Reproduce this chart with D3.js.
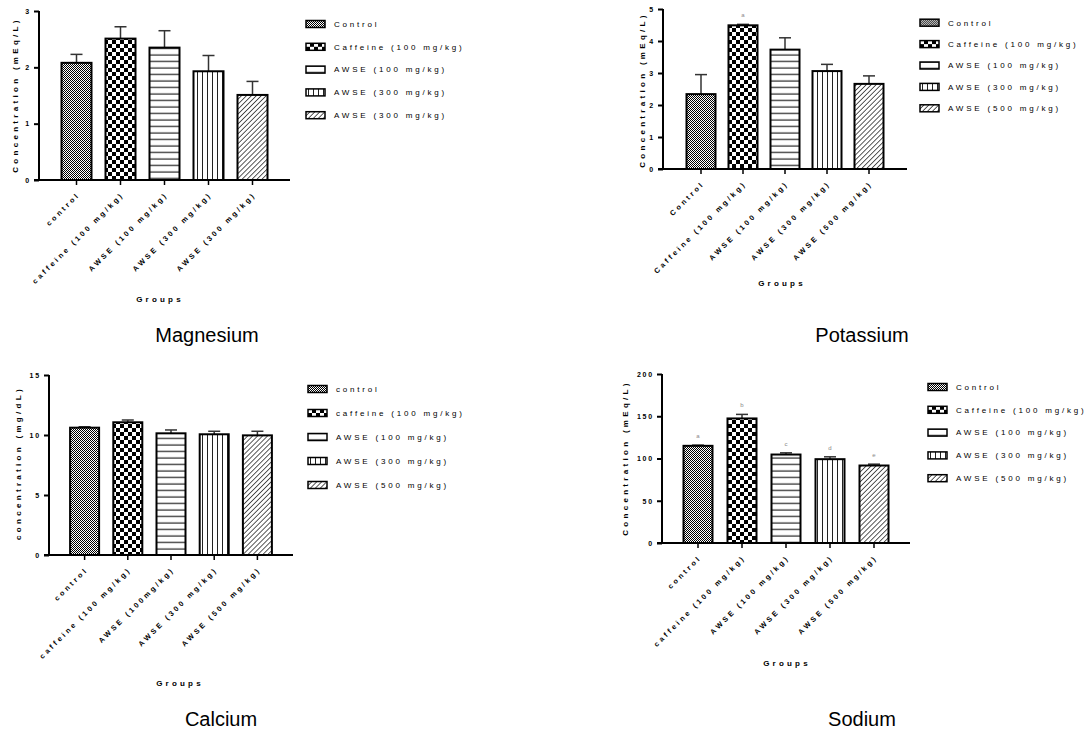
<!DOCTYPE html>
<html>
<head>
<meta charset="utf-8">
<script src="https://cdn.jsdelivr.net/npm/d3@7"></script>
<style>
  html, body { margin: 0; padding: 0; background: #fff; }
  svg { display: block; font-family: "Liberation Sans", Arial, sans-serif; }
</style>
</head>
<body>
<svg id="chart" width="1088" height="735"></svg>
<script>
// ---- Data -------------------------------------------------------------
const fillKeys = ["control", "caffeine", "awse100", "awse300", "awse500"];

const mgTitle = "Magnesium";
const mgYLabel = "Concentration (mEq/L)";
const mgGroups = ["control", "caffeine (100 mg/kg)", "AWSE (100 mg/kg)", "AWSE (300 mg/kg)", "AWSE (300 mg/kg)"];
const mgLegend = ["Control", "Caffeine (100 mg/kg)", "AWSE (100 mg/kg)", "AWSE (300 mg/kg)", "AWSE (300 mg/kg)"];
const mgMeans = [2.08, 2.51, 2.35, 1.93, 1.51];
const mgErrors = [0.15, 0.21, 0.30, 0.28, 0.24];
const mgLetters = ["", "", "", "", ""];
const mgTicks = [0, 1, 2, 3];

const kTitle = "Potassium";
const kYLabel = "Concentration (mEq/L)";
const kGroups = ["Control", "Caffeine (100 mg/kg)", "AWSE (100 mg/kg)", "AWSE (300 mg/kg)", "AWSE (500 mg/kg)"];
const kLegend = ["Control", "Caffeine (100 mg/kg)", "AWSE (100 mg/kg)", "AWSE (300 mg/kg)", "AWSE (500 mg/kg)"];
const kMeans = [2.34, 4.49, 3.73, 3.06, 2.66];
const kErrors = [0.61, 0.03, 0.37, 0.21, 0.25];
const kLetters = ["", "a", "", "", ""];
const kTicks = [0, 1, 2, 3, 4, 5];

const caTitle = "Calcium";
const caYLabel = "concentration (mg/dL)";
const caGroups = ["control", "caffeine (100 mg/kg)", "AWSE (100mg/kg)", "AWSE (300 mg/kg)", "AWSE (500 mg/kg)"];
const caLegend = ["control", "caffeine (100 mg/kg)", "AWSE (100 mg/kg)", "AWSE (300 mg/kg)", "AWSE (500 mg/kg)"];
const caMeans = [10.61, 11.06, 10.14, 10.06, 9.97];
const caErrors = [0.08, 0.19, 0.28, 0.25, 0.34];
const caLetters = ["", "", "", "", ""];
const caTicks = [0, 5, 10, 15];

const naTitle = "Sodium";
const naYLabel = "Concentration (mEq/L)";
const naGroups = ["control", "caffeine (100 mg/kg)", "AWSE (100 mg/kg)", "AWSE (300 mg/kg)", "AWSE (500 mg/kg)"];
const naLegend = ["Control", "Caffeine (100 mg/kg)", "AWSE (100 mg/kg)", "AWSE (300 mg/kg)", "AWSE (500 mg/kg)"];
const naMeans = [115, 147.4, 104.7, 99.2, 91.7];
const naErrors = [0.8, 4.8, 2.0, 2.8, 1.6];
const naLetters = ["a", "b", "c", "d", "e"];
const naTicks = [0, 50, 100, 150, 200];

// ---- Panel layout -----------------------------------------------------
const panels = [
  { title: mgTitle, yLabel: mgYLabel, groups: mgGroups, legend: mgLegend, means: mgMeans, errors: mgErrors, letters: mgLetters, ticks: mgTicks,
    x0: 39, x1: 290, y0: 180, y1: 11, step: 44, bw: 30,
    yLabelX: 15, yLabelY: 95, groupsX: 160, groupsY: 302,
    legX: 306, legY: 24, legStep: 22.8, titleX: 207, titleY: 342 },
  { title: kTitle, yLabel: kYLabel, groups: kGroups, legend: kLegend, means: kMeans, errors: kErrors, letters: kLetters, ticks: kTicks,
    x0: 663, x1: 907, y0: 169, y1: 9, step: 42, bw: 29,
    yLabelX: 642, yLabelY: 90, groupsX: 782, groupsY: 286,
    legX: 920, legY: 22.7, legStep: 21.4, titleX: 862, titleY: 342 },
  { title: caTitle, yLabel: caYLabel, groups: caGroups, legend: caLegend, means: caMeans, errors: caErrors, letters: caLetters, ticks: caTicks,
    x0: 49, x1: 293, y0: 555, y1: 375, step: 43.2, bw: 29,
    yLabelX: 18, yLabelY: 463, groupsX: 180, groupsY: 686,
    legX: 308, legY: 389, legStep: 24, titleX: 221, titleY: 726 },
  { title: naTitle, yLabel: naYLabel, groups: naGroups, legend: naLegend, means: naMeans, errors: naErrors, letters: naLetters, ticks: naTicks,
    x0: 662, x1: 910, y0: 543, y1: 374, step: 44, bw: 29,
    yLabelX: 625, yLabelY: 458, groupsX: 787, groupsY: 666,
    legX: 928, legY: 387, legStep: 22.8, titleX: 862, titleY: 726 }
];

const svg = d3.select("#chart");

// ---- Fill patterns ----------------------------------------------------
const defs = svg.append("defs");

// fine checker
const pCtl = defs.append("pattern").attr("id", "pat-control")
  .attr("patternUnits", "userSpaceOnUse").attr("width", 2).attr("height", 2);
pCtl.append("rect").attr("width", 2).attr("height", 2).attr("fill", "#fff");
pCtl.append("rect").attr("x", 0).attr("y", 0).attr("width", 1).attr("height", 1).attr("fill", "#000");
pCtl.append("rect").attr("x", 1).attr("y", 1).attr("width", 1).attr("height", 1).attr("fill", "#000");

// coarse checker
const pCaf = defs.append("pattern").attr("id", "pat-caffeine")
  .attr("patternUnits", "userSpaceOnUse").attr("width", 8).attr("height", 8);
pCaf.append("rect").attr("width", 8).attr("height", 8).attr("fill", "#fff");
pCaf.append("rect").attr("x", 0).attr("y", 0).attr("width", 4).attr("height", 4).attr("fill", "#000");
pCaf.append("rect").attr("x", 4).attr("y", 4).attr("width", 4).attr("height", 4).attr("fill", "#000");

// horizontal stripes
const pH = defs.append("pattern").attr("id", "pat-awse100")
  .attr("patternUnits", "userSpaceOnUse").attr("width", 6).attr("height", 6.5);
pH.append("rect").attr("width", 6).attr("height", 6.5).attr("fill", "#fff");
pH.append("line").attr("x1", 0).attr("x2", 6).attr("y1", 3).attr("y2", 3)
  .attr("stroke", "#222").attr("stroke-width", 1.2);

// vertical stripes
const pV = defs.append("pattern").attr("id", "pat-awse300")
  .attr("patternUnits", "userSpaceOnUse").attr("width", 5).attr("height", 5);
pV.append("rect").attr("width", 5).attr("height", 5).attr("fill", "#fff");
pV.append("line").attr("x1", 2.5).attr("x2", 2.5).attr("y1", 0).attr("y2", 5)
  .attr("stroke", "#222").attr("stroke-width", 1);

// diagonal hatch
const pD = defs.append("pattern").attr("id", "pat-awse500")
  .attr("patternUnits", "userSpaceOnUse").attr("width", 3.5).attr("height", 3.5)
  .attr("patternTransform", "rotate(45)");
pD.append("rect").attr("width", 3.5).attr("height", 3.5).attr("fill", "#fff");
pD.append("line").attr("x1", 0).attr("x2", 0).attr("y1", 0).attr("y2", 3.5)
  .attr("stroke", "#000").attr("stroke-width", 1.3);

// ---- Draw one panel ---------------------------------------------------
function drawPanel(p) {
  const g = svg.append("g");
  const n = p.groups.length;
  const W = p.x1 - p.x0;
  const pi = 1 - p.bw / p.step;
  const po = (W / p.step - n + pi) / 2;

  const x = d3.scaleBand().domain(d3.range(n)).range([p.x0, p.x1])
    .paddingInner(pi).paddingOuter(po);
  const y = d3.scaleLinear().domain([p.ticks[0], p.ticks[p.ticks.length - 1]]).range([p.y0, p.y1]);

  const rows = p.means.map((m, i) => ({ i, m, e: p.errors[i], letter: p.letters[i], key: fillKeys[i] }));

  // error bars (upper half only, drawn behind the bars)
  const eb = g.append("g").attr("stroke", "#333").attr("stroke-width", 1.5).attr("fill", "none");
  eb.selectAll("line.v").data(rows).join("line")
    .attr("x1", d => x(d.i) + x.bandwidth() / 2).attr("x2", d => x(d.i) + x.bandwidth() / 2)
    .attr("y1", d => y(d.m)).attr("y2", d => y(d.m + d.e));
  eb.selectAll("line.c").data(rows).join("line")
    .attr("x1", d => x(d.i) + x.bandwidth() / 2 - 6).attr("x2", d => x(d.i) + x.bandwidth() / 2 + 6)
    .attr("y1", d => y(d.m + d.e)).attr("y2", d => y(d.m + d.e));

  // bars
  g.append("g").selectAll("rect").data(rows).join("rect")
    .attr("x", d => x(d.i)).attr("width", x.bandwidth())
    .attr("y", d => y(d.m)).attr("height", d => y(0) - y(d.m))
    .attr("fill", d => `url(#pat-${d.key})`)
    .attr("stroke", "#000").attr("stroke-width", 2);

  // significance letters
  g.append("g").selectAll("text").data(rows.filter(d => d.letter)).join("text")
    .attr("x", d => x(d.i) + x.bandwidth() / 2)
    .attr("y", d => y(d.m + d.e) - 7)
    .attr("text-anchor", "middle").attr("font-size", 6).attr("fill", "#888")
    .text(d => d.letter);

  // y axis
  const yAxis = g.append("g").attr("transform", `translate(${p.x0},0)`)
    .call(d3.axisLeft(y).tickValues(p.ticks).tickSize(5).tickPadding(3).tickFormat(d3.format("d")));
  yAxis.select(".domain").attr("stroke", "#000").attr("stroke-width", 2)
    .attr("d", `M0,${p.y0}V${p.y1}`);
  yAxis.selectAll(".tick line").attr("stroke", "#000").attr("stroke-width", 2);
  yAxis.selectAll(".tick text").attr("font-size", 7).attr("font-weight", "bold")
    .attr("fill", "#000").attr("font-family", "Liberation Sans, Arial, sans-serif")
    .style("letter-spacing", "1.8px");

  // x axis
  const xAxis = g.append("g").attr("transform", `translate(0,${p.y0})`)
    .call(d3.axisBottom(x).tickSize(5).tickFormat(i => p.groups[i]));
  xAxis.select(".domain").attr("stroke", "#000").attr("stroke-width", 2)
    .attr("d", `M${p.x0 - 5},0H${p.x1}`);
  xAxis.selectAll(".tick line").attr("stroke", "#000").attr("stroke-width", 1.5);
  xAxis.selectAll(".tick text")
    .attr("font-size", 7.3).attr("font-weight", "bold").attr("fill", "#000")
    .attr("font-family", "Liberation Sans, Arial, sans-serif")
    .style("letter-spacing", "2.8px")
    .attr("text-anchor", "end")
    .attr("dy", null).attr("y", 0)
    .attr("transform", "translate(4,15) rotate(-45)");

  // axis titles
  g.append("text")
    .attr("transform", `translate(${p.yLabelX},${p.yLabelY}) rotate(-90)`)
    .attr("text-anchor", "middle").attr("dy", "0.35em")
    .attr("font-size", 8).attr("font-weight", "bold")
    .style("letter-spacing", "3.3px")
    .text(p.yLabel);
  g.append("text")
    .attr("x", p.groupsX).attr("y", p.groupsY)
    .attr("text-anchor", "middle")
    .attr("font-size", 8).attr("font-weight", "bold")
    .style("letter-spacing", "3.2px")
    .text("Groups");

  // legend
  const leg = g.append("g").selectAll("g").data(p.legend).join("g")
    .attr("transform", (d, i) => `translate(${p.legX},${p.legY + i * p.legStep})`);
  leg.append("rect").attr("x", 0).attr("y", -3.5).attr("width", 19).attr("height", 7)
    .attr("fill", (d, i) => `url(#pat-${fillKeys[i]})`)
    .attr("stroke", "#000").attr("stroke-width", 1.5);
  leg.append("text").attr("x", 28).attr("y", 0).attr("dy", "0.35em")
    .attr("font-size", 8).style("letter-spacing", "2.8px").attr("fill", "#000")
    .text(d => d);

  // panel title
  g.append("text").attr("x", p.titleX).attr("y", p.titleY)
    .attr("text-anchor", "middle").attr("font-size", 20).attr("fill", "#000")
    .text(p.title);
}

panels.forEach(drawPanel);
</script>
</body>
</html>
